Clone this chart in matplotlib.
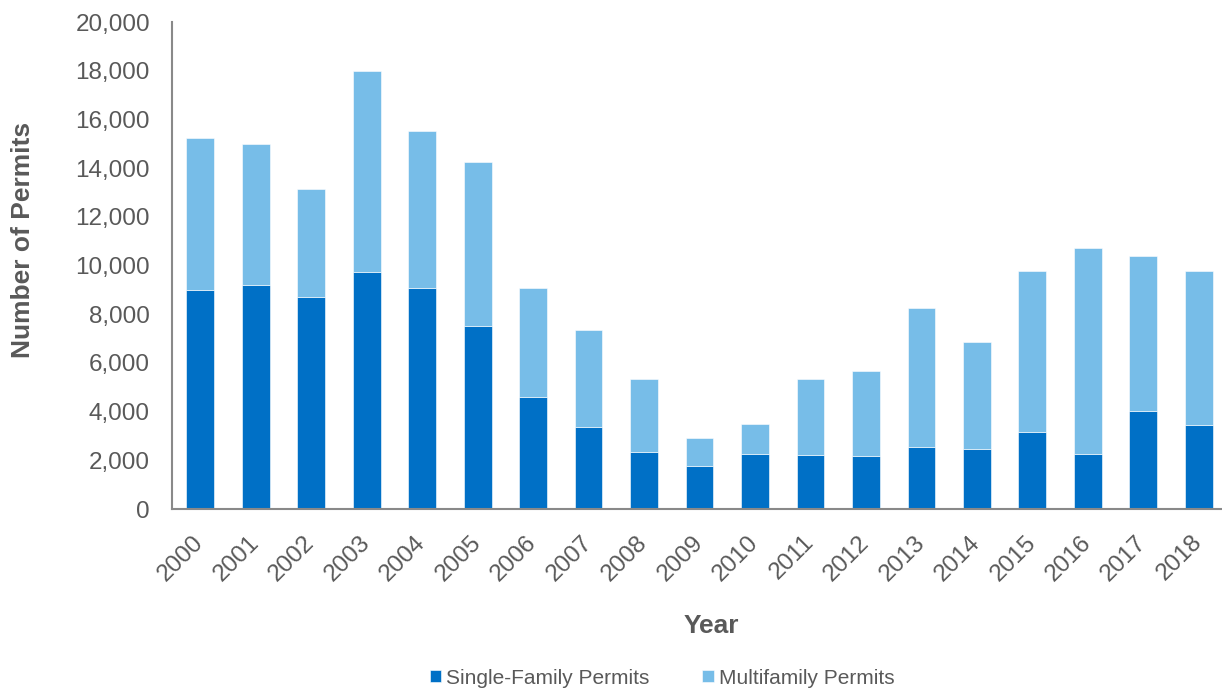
import matplotlib
matplotlib.use("Agg")
import matplotlib.pyplot as plt
from matplotlib.ticker import FuncFormatter
import numpy as np

years = [str(y) for y in range(2000, 2019)]
single_family = [9000, 9200, 8690, 9730, 9080, 7520, 4600, 3350, 2340, 1750,
                 2260, 2220, 2180, 2550, 2460, 3160, 2270, 4020, 3440]
multifamily = [6240, 5780, 4450, 8270, 6430, 6720, 4460, 4000, 3000, 1170,
               1220, 3120, 3470, 5700, 4400, 6600, 8450, 6360, 6330]

DARK = "#0070C6"
LIGHT = "#77BDE8"
TEXT = "#595959"
AXIS = "#898989"

plt.rcParams["font.family"] = ["Liberation Sans", "DejaVu Sans"]

W, H = 1222, 690
fig = plt.figure(figsize=(W / 100, H / 100), dpi=100)
ax = fig.add_axes([171.5 / W, (H - 509) / H, (W - 171.5) / W, 487 / H])

x = np.arange(len(years))
ax.bar(x, single_family, width=0.5, color=DARK, label="Single-Family Permits",
       edgecolor="white", linewidth=0.4)
ax.bar(x, multifamily, width=0.5, bottom=single_family, color=LIGHT,
       label="Multifamily Permits", edgecolor="white", linewidth=0.4)

ax.set_xlim(-0.52, 18.42)
ax.set_ylim(0, 20000)
ax.set_yticks(range(0, 20001, 2000))
ax.yaxis.set_major_formatter(FuncFormatter(lambda v, p: f"{int(v):,}"))
# rotated labels sit a touch left of each bar centre (ticks are hidden)
ax.set_xticks(x - 0.14)
ax.set_xticklabels(years, rotation=45, ha="right", va="top",
                   rotation_mode="anchor")

for s in ["top", "right"]:
    ax.spines[s].set_visible(False)
for s in ["left", "bottom"]:
    ax.spines[s].set_color(AXIS)
    ax.spines[s].set_linewidth(1.5)

ax.tick_params(axis="both", length=0, labelsize=17.5, labelcolor=TEXT)
ax.tick_params(axis="y", pad=15.5)
ax.tick_params(axis="x", pad=16)

fig.text(23 / W, 1 - 240 / H, "Number of Permits", fontsize=19,
         fontweight="bold", color=TEXT, rotation=90, ha="center", va="center")
fig.text(711 / W, 1 - 626 / H, "Year", fontsize=19, fontweight="bold",
         color=TEXT, ha="center", va="center")

leg = fig.legend(loc="center", bbox_to_anchor=(662 / W, 1 - 678 / H), ncol=2,
                 frameon=False, fontsize=15, handlelength=0.56,
                 handleheight=0.56, handletextpad=0.22, columnspacing=2.55,
                 borderpad=0)
for t in leg.get_texts():
    t.set_color(TEXT)

fig.savefig("out.png", dpi=100, facecolor="white")
